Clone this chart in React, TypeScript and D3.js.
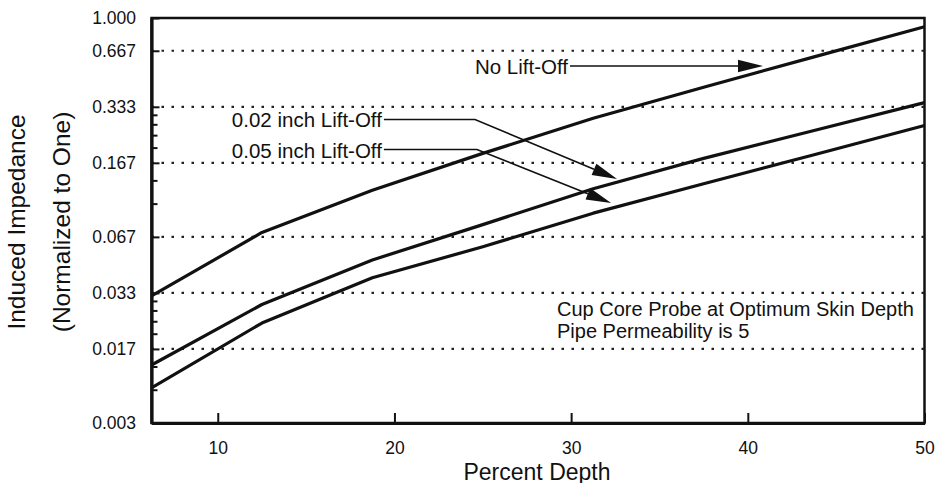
import React, { useEffect, useRef } from 'react';
import * as d3 from 'd3';

// percent depth samples, one series value per sample
const percentDepth = [6.25, 12.5, 18.75, 25, 31.25, 37.5, 43.75, 50];
const noLiftOff = [0.0321, 0.0704, 0.1188, 0.1873, 0.2894, 0.4249, 0.618, 0.898];
const liftOff002 = [0.01366, 0.02888, 0.0501, 0.0776, 0.121, 0.1761, 0.2486, 0.351];
const liftOff005 = [0.01028, 0.02297, 0.0402, 0.059, 0.0894, 0.1286, 0.1843, 0.2646];

const xTicks = [10, 20, 30, 40, 50];
const yTickValues = [1, 2 / 3, 1 / 3, 1 / 6, 1 / 15, 1 / 30, 1 / 60, 1 / 150];
const yTickLabels = ['1.000', '0.667', '0.333', '0.167', '0.067', '0.033', '0.017', '0.003'];
const yMinorTicks = [0.3, 0.2667, 0.2333, 0.2, 0.1333, 0.1, 0.03, 0.02667, 0.02333, 0.02, 0.01333, 0.01];

// arrow callouts (data coordinates)
const callouts = [
  { label: 'No Lift-Off', textEnd: 29.82, y: 0.552, knee: null, tipX: 40.86, tipY: 0.552 },
  { label: '0.02 inch Lift-Off', textEnd: 19.29, y: 0.2849, knee: 24.56, tipX: 32.6, tipY: 0.1364 },
  { label: '0.05 inch Lift-Off', textEnd: 19.29, y: 0.1965, knee: 24.67, tipX: 32.26, tipY: 0.1014 },
];
const noteLines = ['Cup Core Probe at Optimum Skin Depth', 'Pipe Permeability is 5'];
const notePos = { x: 29.2, y: 0.02505 };

const FONT = '"Liberation Sans", Arial, Helvetica, sans-serif';

export default function App() {
  const svgRef = useRef(null);

  const W = 936, H = 483;
  const margin = { top: 18, right: 11.5, bottom: 60, left: 151.5 };

  useEffect(() => {
    const svg = d3.select(svgRef.current);
    svg.selectAll('*').remove();

    const x = d3.scaleLinear().domain([6.25, 50]).range([margin.left, W - margin.right]);
    const y = d3.scaleLog().domain([1 / 150, 1]).range([H - margin.bottom, margin.top]);

    // plot frame (top/right)
    svg.append('rect')
      .attr('x', x(6.25)).attr('y', y(1))
      .attr('width', x(50) - x(6.25)).attr('height', y(1 / 150) - y(1))
      .attr('fill', 'none').attr('stroke', '#111').attr('stroke-width', 2.5);

    // dotted grid
    svg.append('g')
      .selectAll('line')
      .data(yTickValues.slice(1, -1))
      .join('line')
      .attr('x1', x(6.25)).attr('x2', x(50))
      .attr('y1', d => y(d)).attr('y2', d => y(d))
      .attr('stroke', '#222').attr('stroke-width', 2.2)
      .attr('stroke-dasharray', '2.5 7.5');

    // minor ticks
    svg.append('g')
      .selectAll('line')
      .data(yMinorTicks)
      .join('line')
      .attr('x1', x(6.25)).attr('x2', x(6.25) + 6)
      .attr('y1', d => y(d)).attr('y2', d => y(d))
      .attr('stroke', '#111').attr('stroke-width', 2);

    const yAxis = d3.axisLeft(y)
      .tickValues(yTickValues)
      .tickFormat((d, i) => yTickLabels[i])
      .tickSize(-8).tickSizeOuter(0).tickPadding(15.5);
    const gy = svg.append('g').attr('transform', `translate(${margin.left},0)`).call(yAxis);
    gy.select('.domain').attr('stroke', '#111').attr('stroke-width', 3.2);
    gy.selectAll('.tick line').attr('stroke', '#111').attr('stroke-width', 2);
    gy.selectAll('.tick text').attr('font-family', FONT).attr('font-size', 17.5).attr('fill', '#111');

    const xAxis = d3.axisBottom(x)
      .tickValues(xTicks)
      .tickFormat(d3.format('d'))
      .tickSize(-10).tickSizeOuter(0).tickPadding(19);
    const gx = svg.append('g').attr('transform', `translate(0,${H - margin.bottom})`).call(xAxis);
    gx.select('.domain').attr('stroke', '#111').attr('stroke-width', 3.2);
    gx.selectAll('.tick line').attr('stroke', '#111').attr('stroke-width', 2);
    gx.selectAll('.tick text').attr('font-family', FONT).attr('font-size', 17.5).attr('fill', '#111');

    // series
    const line = d3.line()
      .x((d, i) => x(percentDepth[i]))
      .y(d => y(d));
    svg.append('g')
      .selectAll('path')
      .data([noLiftOff, liftOff002, liftOff005])
      .join('path')
      .attr('d', d => line(d))
      .attr('fill', 'none')
      .attr('stroke', '#111')
      .attr('stroke-width', 3.2)
      .attr('stroke-linejoin', 'round');

    // callouts with arrows
    const cg = svg.append('g');
    callouts.forEach(c => {
      const ty = y(c.y);
      cg.append('text')
        .attr('x', x(c.textEnd)).attr('y', ty + 8)
        .attr('text-anchor', 'end')
        .attr('font-family', FONT).attr('font-size', 20.5).attr('fill', '#111')
        .text(c.label);
      const pts = [[x(c.textEnd) + 2, ty]];
      if (c.knee !== null) pts.push([x(c.knee), ty]);
      const tip = [x(c.tipX), y(c.tipY)];
      const prev = pts[pts.length - 1];
      const dx = tip[0] - prev[0], dy = tip[1] - prev[1];
      const len = Math.hypot(dx, dy);
      const ux = dx / len, uy = dy / len;
      const headLen = 25, half = 6.2;
      const base = [tip[0] - ux * headLen, tip[1] - uy * headLen];
      pts.push(base);
      cg.append('path')
        .attr('d', d3.line()(pts))
        .attr('fill', 'none').attr('stroke', '#111').attr('stroke-width', 1.6);
      cg.append('path')
        .attr('d', d3.line()([
          tip,
          [base[0] - uy * half, base[1] + ux * half],
          [base[0] + uy * half, base[1] - ux * half],
        ]) + 'Z')
        .attr('fill', '#111');
    });

    // note
    cg.append('g')
      .selectAll('text')
      .data(noteLines)
      .join('text')
      .attr('x', x(notePos.x))
      .attr('y', (d, i) => y(notePos.y) + i * 22)
      .attr('font-family', FONT).attr('font-size', 20).attr('fill', '#111')
      .text(d => d);

    // axis titles
    svg.append('text')
      .attr('x', (margin.left + W - margin.right) / 2 - 1)
      .attr('y', 479.5)
      .attr('text-anchor', 'middle')
      .attr('font-family', FONT).attr('font-size', 23).attr('fill', '#111')
      .text('Percent Depth');

    const yTitle = svg.append('g').attr('transform', 'translate(0,222) rotate(-90)');
    yTitle.append('text')
      .attr('x', 0).attr('y', 25)
      .attr('text-anchor', 'middle')
      .attr('font-family', FONT).attr('font-size', 24.5).attr('fill', '#111')
      .text('Induced Impedance');
    yTitle.append('text')
      .attr('x', 0).attr('y', 70)
      .attr('text-anchor', 'middle')
      .attr('font-family', FONT).attr('font-size', 24.5).attr('fill', '#111')
      .text('(Normalized to One)');
  });

  return (
    <svg
      ref={svgRef}
      width={W}
      height={H}
      style={{ position: 'absolute', left: 0, top: 0, background: '#fff' }}
    />
  );
}
